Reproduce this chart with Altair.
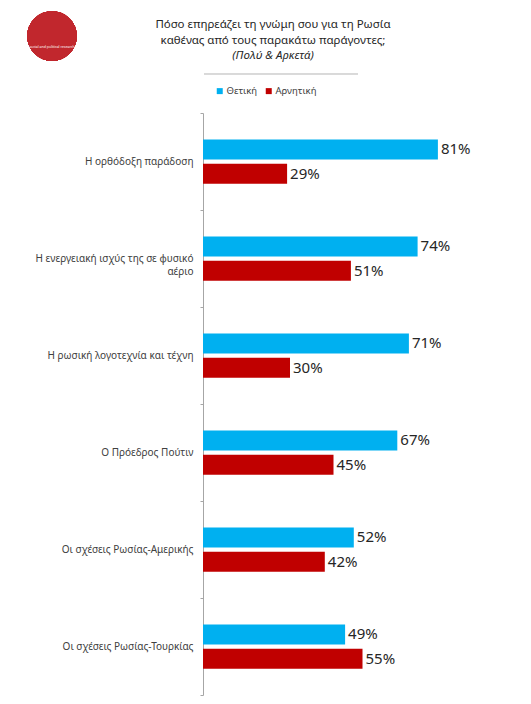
import altair as alt
import pandas as pd

categories = [
    "Η ορθόδοξη παράδοση",
    "Η ενεργειακή ισχύς της σε φυσικό|αέριο",
    "Η ρωσική λογοτεχνία και τέχνη",
    "Ο Πρόεδρος Πούτιν",
    "Οι σχέσεις Ρωσίας-Αμερικής",
    "Οι σχέσεις Ρωσίας-Τουρκίας",
]
series = ["Θετική", "Αρνητική"]
positive = [81, 74, 71, 67, 52, 49]
negative = [29, 51, 30, 45, 42, 55]
colors = ["#00B0F0", "#C00000"]
title_lines = [
    "Πόσο επηρεάζει τη γνώμη σου για τη Ρωσία",
    "καθένας από τους παρακάτω παράγοντες;",
]
subtitle = "(Πολύ & Αρκετά)"

rows = []
for c, p, n in zip(categories, positive, negative):
    rows.append({"cat": c, "series": series[0], "value": p, "label": f"{p}%"})
    rows.append({"cat": c, "series": series[1], "value": n, "label": f"{n}%"})
df = pd.DataFrame(rows)

FONT = "Noto Sans"

base = alt.Chart(df).encode(
    y=alt.Y(
        "cat:N",
        sort=categories,
        title=None,
        scale=alt.Scale(paddingInner=0, paddingOuter=0),
        axis=alt.Axis(
            labelExpr="split(datum.label, '|')",
            labelFont=FONT,
            labelFontSize=10,
            labelColor="#404040",
            labelPadding=7,
            labelLimit=200,
            tickBand="extent",
            tickSize=3,
            tickColor="#A6A6A6",
            domainColor="#A6A6A6",
            labelLineHeight=13,
        ),
    ),
    yOffset=alt.YOffset("series:N", sort=series, scale=alt.Scale(paddingInner=0, paddingOuter=1)),
)

bars = base.mark_bar(height=20).encode(
    x=alt.X("value:Q", scale=alt.Scale(domain=[0, 100]), axis=None),
    color=alt.Color(
        "series:N",
        sort=series,
        scale=alt.Scale(domain=series, range=colors),
        legend=alt.Legend(
            title=None,
            orient="none",
            direction="horizontal",
            legendX=12,
            legendY=-27,
            symbolType="square",
            symbolSize=36,
            symbolStrokeWidth=0,
            labelFont=FONT,
            labelFontSize=9.5,
            labelColor="#404040",
            labelOffset=2,
            columnPadding=6,
        ),
    ),
)

texts = base.mark_text(align="left", baseline="middle", dx=3, font=FONT, fontSize=15, color="#262626").encode(
    x=alt.X("value:Q"),
    text="label:N",
)

title_style = dict(font=FONT, fontSize=11.5, color="#262626", baseline="middle", align="center")
title1 = alt.Chart(pd.DataFrame({"t": [title_lines[0]]})).mark_text(**title_style).encode(
    x=alt.value(70), y=alt.value(-88), text="t:N"
)
title2 = alt.Chart(pd.DataFrame({"t": [title_lines[1]]})).mark_text(**title_style).encode(
    x=alt.value(70), y=alt.value(-72.5), text="t:N"
)
title3 = alt.Chart(pd.DataFrame({"t": [subtitle]})).mark_text(fontStyle="italic", **title_style).encode(
    x=alt.value(70), y=alt.value(-57), text="t:N"
)

rule = alt.Chart(df).mark_rule(color="#D9D9D9", strokeWidth=1).encode(
    x=alt.value(1), x2=alt.value(155), y=alt.value(-39)
)

logo = alt.Chart(df).mark_circle(color="#C1272D", opacity=1, size=2460).encode(
    x=alt.value(-151), y=alt.value(-77)
)
logo_text = alt.Chart(pd.DataFrame({"t": ["social and political research"]})).mark_text(
    color="white", fontSize=3.5, font=FONT
).encode(x=alt.value(-151), y=alt.value(-66), text="t:N")

chart = (
    alt.layer(logo, logo_text, title1, title2, title3, rule, bars, texts)
    .properties(
        width=290,
        height=582,
        padding={"left": 195, "top": 105, "right": 20, "bottom": 5},
        autosize=alt.AutoSizeParams(type="none"),
    )
    .configure_view(stroke=None)
)

chart.save("out.html", embed_options={"renderer": "svg", "actions": False})
